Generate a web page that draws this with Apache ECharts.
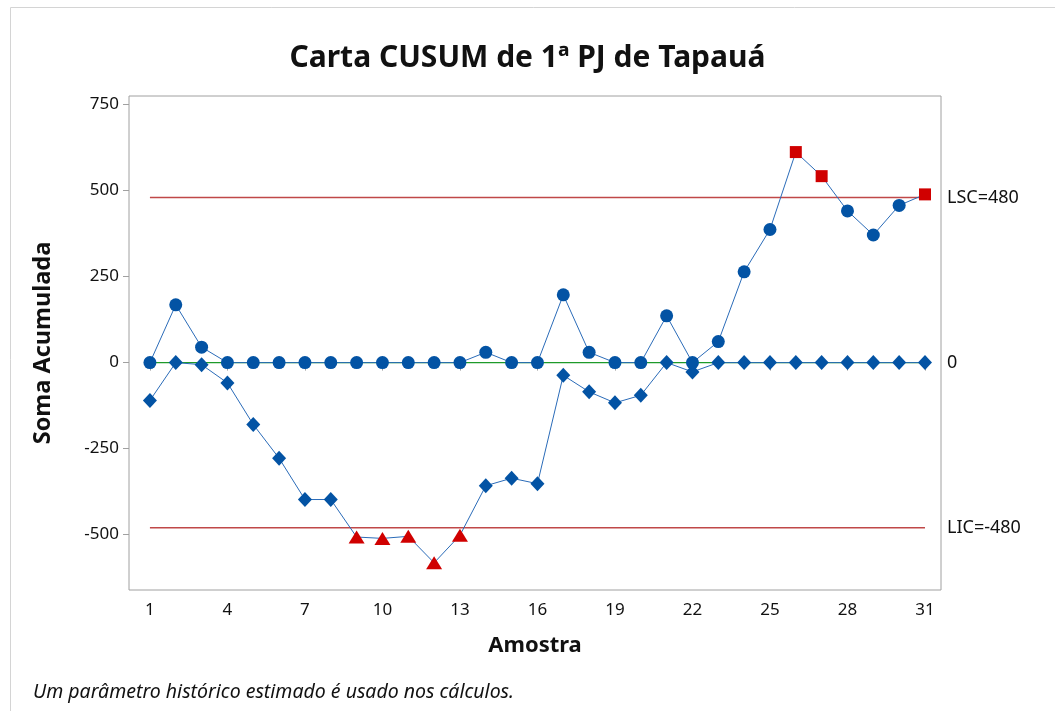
<!DOCTYPE html>
<html>
<head>
<meta charset="utf-8">
<script src="https://cdn.jsdelivr.net/npm/echarts@6/dist/echarts.min.js"></script>
<style>
  html, body { margin: 0; padding: 0; background: #fff; }
  #chart { width: 1055px; height: 711px; }
</style>
</head>
<body>
<div id="chart"></div>
<script>
// amostras 1..31
const samples = Array.from({ length: 31 }, (_, i) => i + 1)
const upperCusum = [0, 168, 45, 0, 0, 0, 0, 0, 0, 0, 0, 0, 0, 30, 0, 0, 197, 30, 0, 0,
  136, 0, 61, 264, 387, 612, 542, 441, 371, 457, 489]
const lowerCusum = [-110, 0, -6, -59, -180, -278, -398, -398, -507, -511, -505, -582, -502, -358, -336, -352,
  -37, -85, -117, -95, 0, -27, 0, 0, 0, 0, 0, 0, 0, 0, 0]
const lsc = 480
const lic = -480
const center = 0
const xTicks = [1, 4, 7, 10, 13, 16, 19, 22, 25, 28, 31]
const yTicks = [-500, -250, 0, 250, 500, 750]

const blue = '#0353a4'
const lineBlue = '#2a6bb8'
const red = '#d00000'
const font = '"Noto Sans", "Open Sans", sans-serif'

const chart = echarts.init(document.getElementById('chart'))

const upperData = upperCusum.map((v, i) => v > lsc
  ? { value: [samples[i], v], symbol: 'rect', symbolSize: 12, itemStyle: { color: red } }
  : { value: [samples[i], v] })
const lowerData = lowerCusum.map((v, i) => v < lic
  ? { value: [samples[i], v], symbol: 'triangle', symbolSize: [16, 13], itemStyle: { color: red } }
  : { value: [samples[i], v] })

const limitLine = (name, v, color, label) => ({
  name,
  type: 'line',
  data: [[samples[0], v], [samples[samples.length - 1], v]],
  symbol: 'none',
  silent: true,
  z: 1,
  lineStyle: { color, width: 1.4 },
  endLabel: {
    show: true,
    formatter: label,
    distance: 22,
    color: '#111',
    fontFamily: font,
    fontSize: 18
  }
})

chart.setOption({
  animation: false,
  title: [
    {
      text: 'Carta CUSUM de 1ª PJ de Tapauá',
      left: 'center',
      top: 38,
      textStyle: { fontFamily: font, fontSize: 30, fontWeight: 'bold', color: '#111' }
    },
    {
      text: 'Um parâmetro histórico estimado é usado nos cálculos.',
      left: 28,
      top: 677,
      textStyle: { fontFamily: font, fontSize: 19.5, fontStyle: 'italic', fontWeight: 'normal', color: '#111' }
    }
  ],
  graphic: [
    {
      type: 'rect',
      shape: { x: 10.5, y: 7.5, width: 1100, height: 800 },
      style: { fill: 'none', stroke: '#d4d4d4', lineWidth: 1 },
      silent: true
    }
  ],
  grid: {
    left: 129,
    right: 114,
    top: 96,
    bottom: 121,
    show: true,
    borderColor: '#a0a0a0',
    borderWidth: 1
  },
  xAxis: {
    type: 'value',
    min: 0.19,
    max: 31.62,
    name: 'Amostra',
    nameLocation: 'middle',
    nameGap: 45,
    nameTextStyle: { fontFamily: font, fontSize: 22, fontWeight: 'bold', color: '#111' },
    splitLine: { show: false },
    axisLine: { show: false },
    axisTick: { show: true, customValues: xTicks, length: 8, lineStyle: { color: '#a0a0a0' } },
    axisLabel: { customValues: xTicks, fontFamily: font, fontSize: 17, color: '#111', margin: 12 }
  },
  yAxis: {
    type: 'value',
    min: -661,
    max: 775,
    name: 'Soma Acumulada',
    nameLocation: 'middle',
    nameGap: 74,
    nameTextStyle: { fontFamily: font, fontSize: 23.5, fontWeight: 'bold', color: '#111' },
    splitLine: { show: false },
    axisLine: { show: false },
    axisTick: { show: true, customValues: yTicks, length: 6, lineStyle: { color: '#a0a0a0' } },
    axisLabel: { customValues: yTicks, fontFamily: font, fontSize: 17, color: '#111', margin: 10 }
  },
  series: [
    limitLine('LSC', lsc, '#c04848', 'LSC=480'),
    limitLine('LIC', lic, '#c04848', 'LIC=-480'),
    limitLine('Centro', center, '#1e9a2a', '0'),
    {
      name: 'Inferior',
      type: 'line',
      data: lowerData,
      symbol: 'diamond',
      symbolSize: [14, 15],
      itemStyle: { color: blue },
      lineStyle: { color: lineBlue, width: 1 },
      z: 3
    },
    {
      name: 'Superior',
      type: 'line',
      data: upperData,
      symbol: 'circle',
      symbolSize: 13,
      itemStyle: { color: blue },
      lineStyle: { color: lineBlue, width: 1 },
      z: 4
    }
  ]
})
</script>
</body>
</html>
